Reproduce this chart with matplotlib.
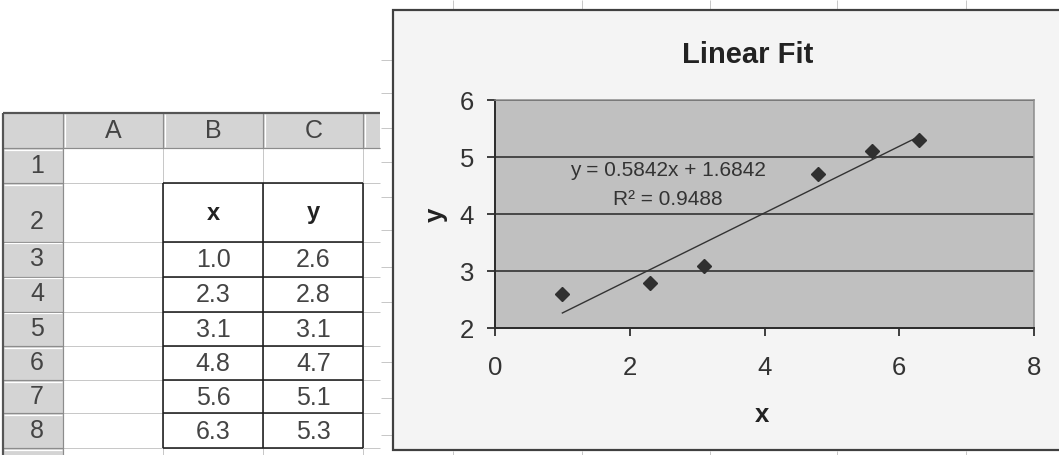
import numpy as np
import matplotlib
matplotlib.use("Agg")
import matplotlib.pyplot as plt
from matplotlib.patches import Rectangle

plt.rcParams['font.family'] = ['Liberation Sans', 'DejaVu Sans']

# ---------------- data ----------------
x_vals = [1.0, 2.3, 3.1, 4.8, 5.6, 6.3]
y_vals = [2.6, 2.8, 3.1, 4.7, 5.1, 5.3]
col_letters = ['A', 'B', 'C']
row_numbers = ['1', '2', '3', '4', '5', '6', '7', '8']
x_ticks = [0, 2, 4, 6, 8]
y_ticks = [2, 3, 4, 5, 6]
title_text = 'Linear Fit'
x_label = 'x'
y_label = 'y'

W, H = 1059, 455
PX = 72 / 100  # points per pixel

fig = plt.figure(figsize=(W / 100, H / 100), dpi=100)
fig.patch.set_facecolor('white')

# background axes in pixel coordinates (spreadsheet + chart frame)
bg = fig.add_axes([0, 0, 1, 1])
bg.set_xlim(0, W)
bg.set_ylim(H, 0)
bg.axis('off')

col_edges = [3, 63.3, 163.3, 263.3, 363.3, 380]
row_edges = [113, 148.3, 183.3, 241.7, 276.7, 311.7, 346, 380, 413.3, 448.3]
HDR = '#d4d4d4'
GRID = '#c8c8c8'
HDR_LINE = '#8c8c8c'

def line(xs, ys, c, lw, z=1):
    bg.plot(xs, ys, color=c, lw=lw * PX, solid_capstyle='butt', zorder=z)

# header fills
bg.add_patch(Rectangle((3, 113), 377, 148.3 - 113, fc=HDR, ec='none', zorder=0.5))
bg.add_patch(Rectangle((3, 148.3), 60.3, 320, fc=HDR, ec='none', zorder=0.5))

# light gridlines of white cells
for xe in col_edges[2:5]:
    line([xe, xe], [148.3, H + 5], GRID, 1)
for ye in row_edges[1:]:
    line([63.3, 380], [ye, ye], GRID, 1)

# header separators
for xe in col_edges[1:5]:
    line([xe, xe], [113, 148.3], HDR_LINE, 1.2, 2)
    line([xe + 1.5, xe + 1.5], [114, 147], 'white', 1.2, 2)
for ye in row_edges[1:]:
    line([3, 63.3], [ye, ye], HDR_LINE, 1.2, 2)
    line([4, 62], [ye + 1.5, ye + 1.5], 'white', 1.2, 2)
line([63.3, 380], [148.3, 148.3], HDR_LINE, 1.2, 2)
line([63.3, 63.3], [148.3, H + 5], HDR_LINE, 1.2, 2)

# outer frame of sheet
line([3, 380], [113, 113], '#555555', 2.2, 3)
line([3, 3], [113, H + 5], '#555555', 2.2, 3)

# table borders B2:C8
for ye in row_edges[2:]:
    line([163.3, 363.3], [ye, ye], '#1e1e1e', 1.6, 3)
for xe in [163.3, 263.3, 363.3]:
    line([xe, xe], [183.3, 448.3], '#1e1e1e', 1.6, 3)

# header texts
for i, letter in enumerate(col_letters):
    cx = (col_edges[i + 1] + col_edges[i + 2]) / 2
    bg.text(cx, 131, letter, ha='center', va='center', fontsize=18, color='#444444', zorder=4)
for i, rn in enumerate(row_numbers):
    top, bot = row_edges[i + 1], row_edges[i + 2]
    cy = (top + bot) / 2 if i != 1 else bot - 20
    bg.text(37, cy, rn, ha='center', va='center', fontsize=18, color='#444444', zorder=4)

# table contents
bcx = (163.3 + 263.3) / 2
ccx = (263.3 + 363.3) / 2
bg.text(bcx, 213, x_label, ha='center', va='center', fontsize=17, fontweight='bold', color='#222222', zorder=4)
bg.text(ccx, 213, y_label, ha='center', va='center', fontsize=17, fontweight='bold', color='#222222', zorder=4)
for i, (xv, yv) in enumerate(zip(x_vals, y_vals)):
    top, bot = row_edges[3 + i], row_edges[4 + i]
    cy = (top + bot) / 2 + 1
    bg.text(bcx, cy, f'{xv:.1f}', ha='center', va='center', fontsize=18, color='#444444', zorder=4)
    bg.text(ccx, cy, f'{yv:.1f}', ha='center', va='center', fontsize=18, color='#444444', zorder=4)

# stray background-sheet ticks around the chart
for xt in [453, 582, 710, 837, 966]:
    line([xt, xt], [0, 9], GRID, 1)
    line([xt, xt], [451, H + 2], GRID, 1)
for yt in [60, 93, 128, 162, 197, 230, 267, 302, 362, 398, 435]:
    line([381, 392], [yt, yt], GRID, 1)

# chart area
bg.add_patch(Rectangle((393, 10), 720, 440, fc='#f4f4f4', ec='#404040', lw=2.2 * PX, zorder=5))
bg.text(748, 63, title_text, ha='center', va='baseline', fontsize=21, fontweight='bold',
        color='#222222', zorder=6)

# ---------------- plot area ----------------
L, R, T, B = 495, 1034, 100, 328.3
ax = fig.add_axes([L / W, (H - B) / H, (R - L) / W, (B - T) / H])
ax.set_zorder(10)
ax.set_facecolor('#c0c0c0')
ax.set_xlim(0, 8)
ax.set_ylim(2, 6)
ax.set_xticks(x_ticks)
ax.set_yticks(y_ticks)
ax.grid(axis='y', color='#2e2e2e', lw=1.6 * PX)
ax.set_axisbelow(True)
for s in ['left', 'bottom']:
    ax.spines[s].set_color('#2e2e2e')
    ax.spines[s].set_linewidth(2 * PX)
for s in ['top', 'right']:
    ax.spines[s].set_color('#8a8a8a')
    ax.spines[s].set_linewidth(1.5 * PX)
ax.tick_params(direction='out', length=8 * PX, width=1.8 * PX, color='#2e2e2e',
               labelsize=18.5, labelcolor='#333333')
ax.tick_params(axis='x', pad=20 * PX)
ax.tick_params(axis='y', pad=13 * PX)

xs = np.array(x_vals)
ys = np.array(y_vals)
slope, intercept = np.polyfit(xs, ys, 1)
pred = slope * xs + intercept
r2 = 1 - np.sum((ys - pred) ** 2) / np.sum((ys - ys.mean()) ** 2)
xl = np.array([xs.min(), xs.max()])
ax.plot(xl, slope * xl + intercept, color='#333333', lw=1.0, zorder=3)
ax.plot(xs, ys, 'D', ms=7.6, color='#303030', mec='#303030', zorder=4)

ax.text(0.321, 0.691, f'y = {slope:.4f}x + {intercept:.4f}', transform=ax.transAxes,
        ha='center', va='center', fontsize=15, color='#333333')
ax.text(0.321, 0.562, f'R\u00b2 = {r2:.4f}', transform=ax.transAxes,
        ha='center', va='center', fontsize=15, color='#333333')

ax.set_xlabel(x_label, fontsize=18.5, fontweight='bold', color='#222222', va='center')
ax.set_ylabel(y_label, fontsize=18.5, fontweight='bold', color='#222222', va='center')
ax.xaxis.set_label_coords((762 - L) / (R - L), (B - 415) / (B - T))
ax.yaxis.set_label_coords((436 - L) / (R - L), (B - 215) / (B - T))

fig.savefig('out.png', dpi=100, facecolor='white')
